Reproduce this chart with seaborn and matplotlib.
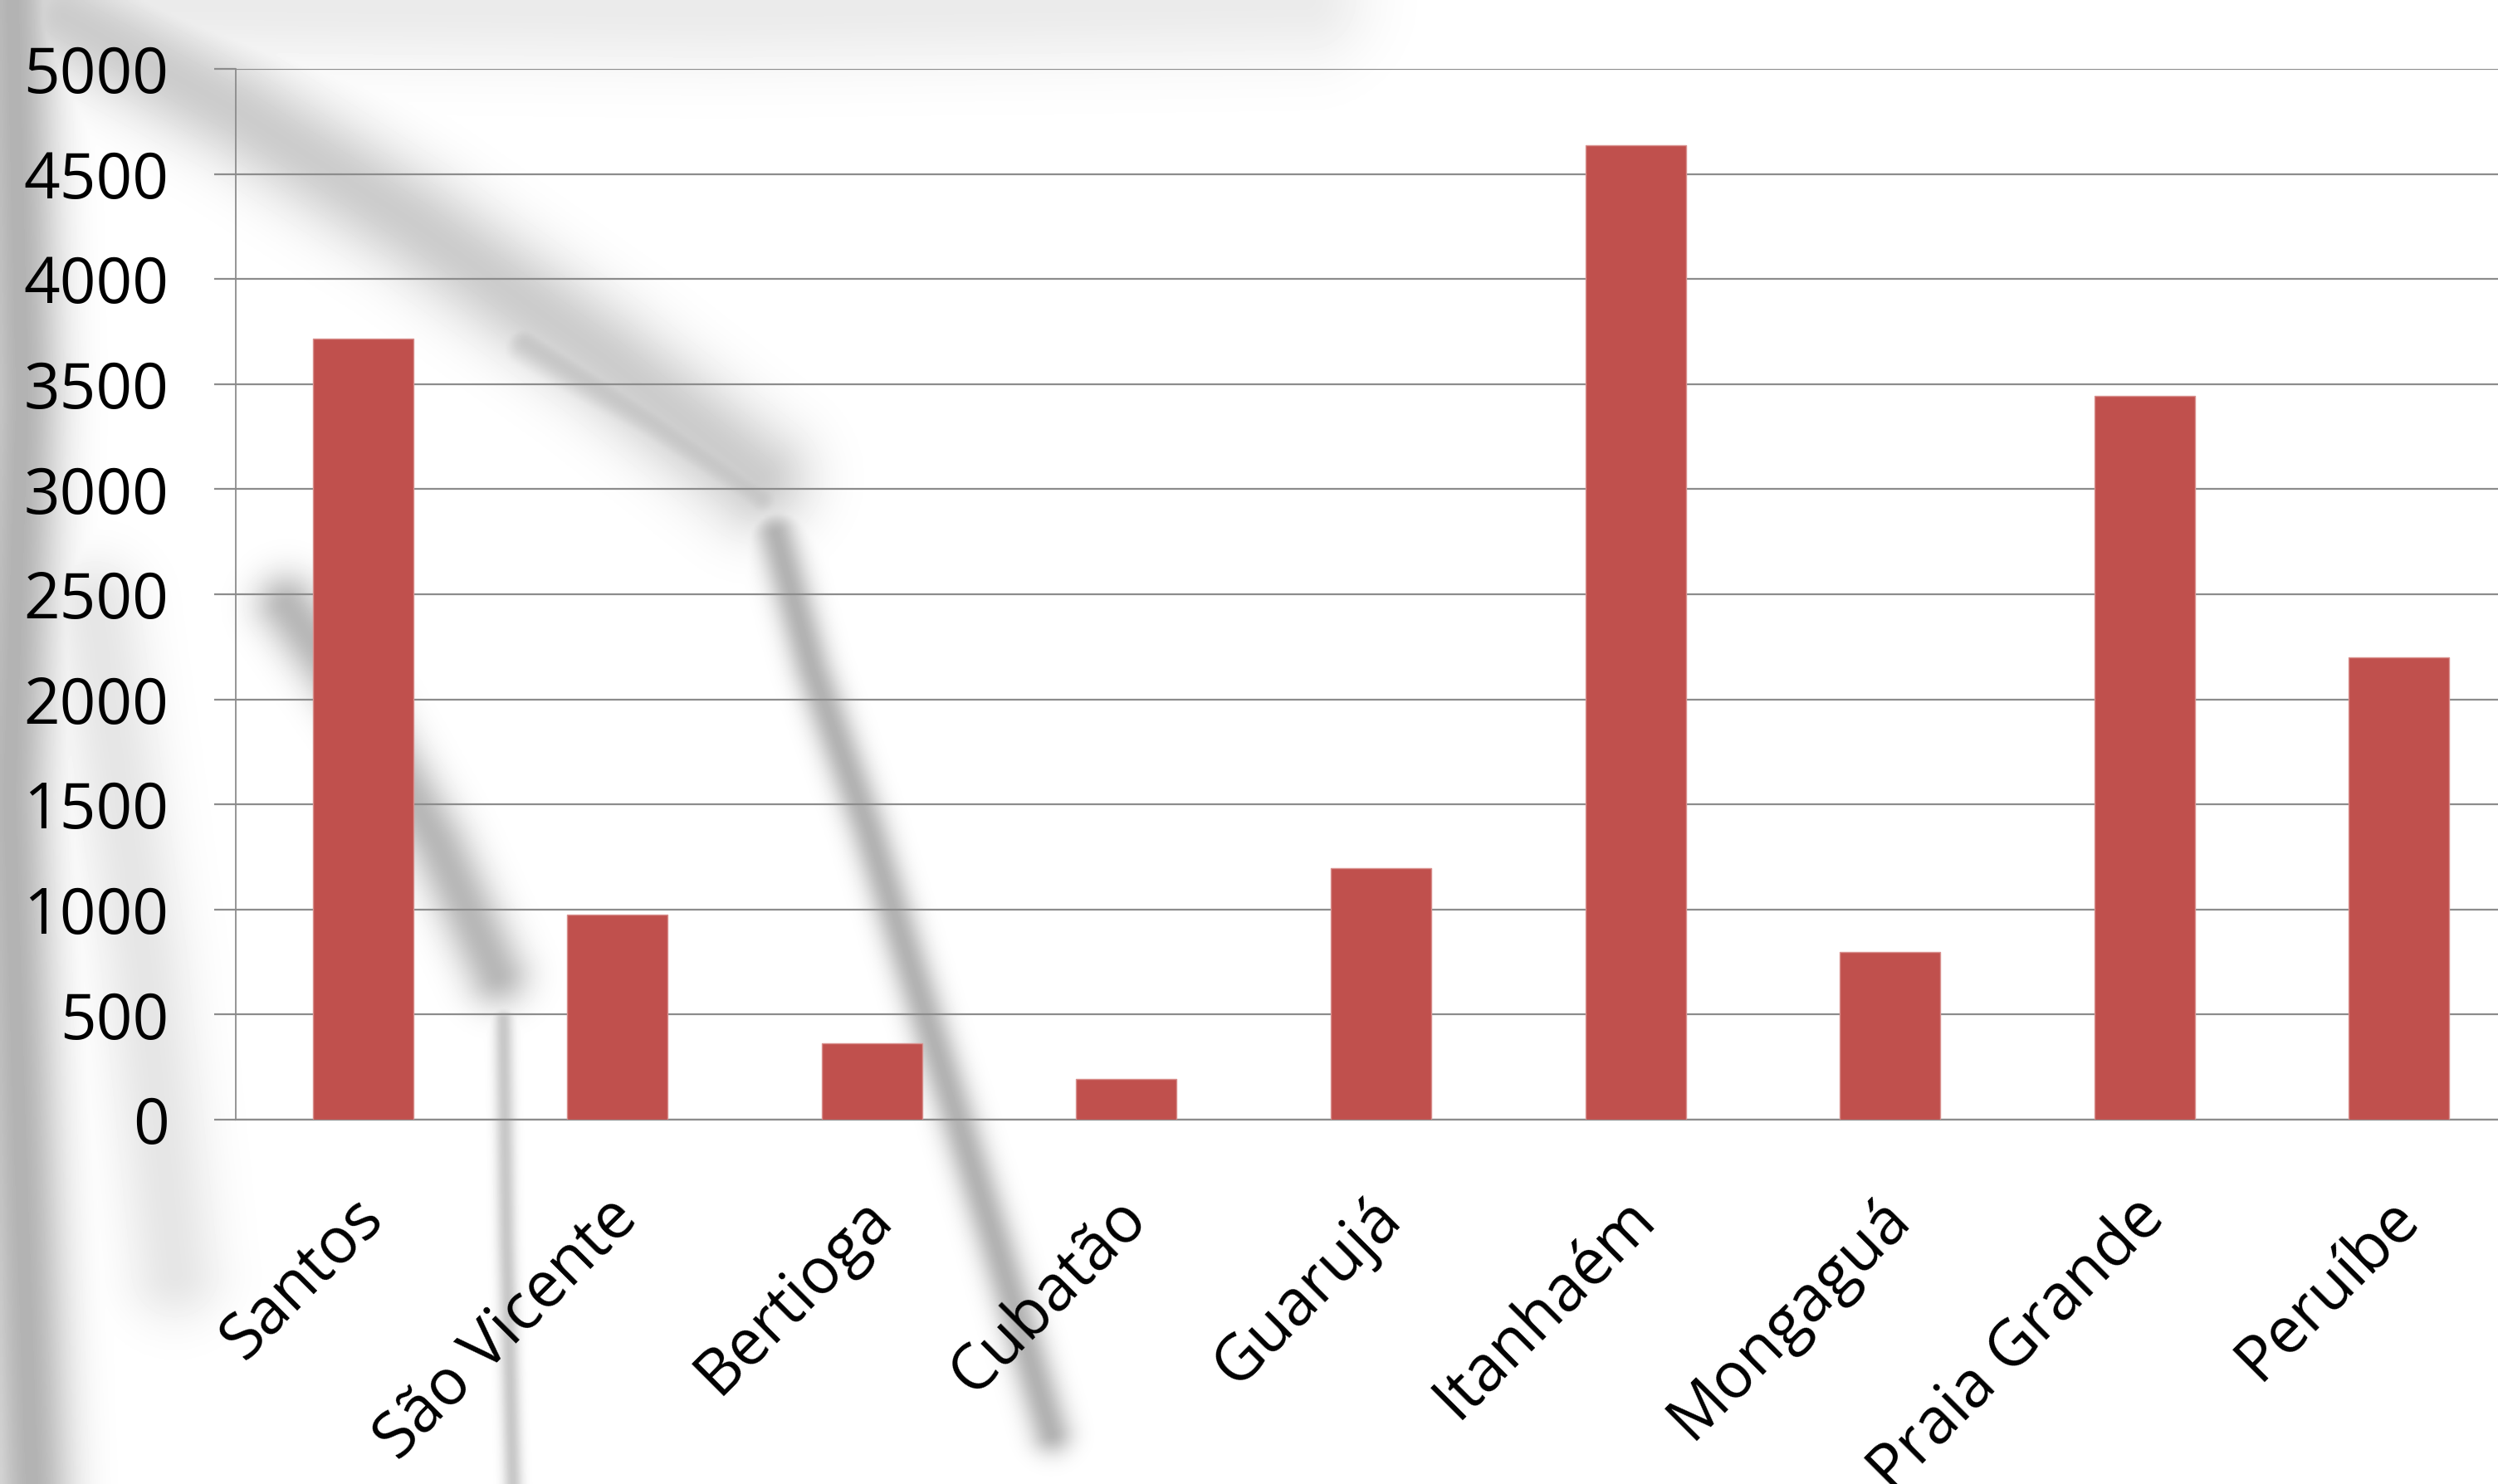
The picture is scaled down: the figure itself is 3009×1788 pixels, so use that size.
import numpy as np
import pandas as pd
import matplotlib
matplotlib.use("Agg")
import matplotlib.pyplot as plt
import matplotlib.transforms as mtransforms
import seaborn as sns

# ---- data ----
categories = ["Santos", "São Vicente", "Bertioga", "Cubatão", "Guarujá",
              "Itanhaém", "Mongaguá", "Praia Grande", "Peruíbe"]
values = [3715, 975, 362, 192, 1197, 4637, 797, 3445, 2199]
yticks = [0, 500, 1000, 1500, 2000, 2500, 3000, 3500, 4000, 4500, 5000]

df = pd.DataFrame({"cidade": categories, "valor": values})

sns.set_theme(style="white")
plt.rcParams["font.family"] = ["Open Sans", "DejaVu Sans"]

W, H = 3009, 1788
fig = plt.figure(figsize=(W / 100, H / 100), dpi=100)
fig.patch.set_facecolor("white")

# ---- faded photographic background (decoration) ----
bw, bh = 784, 466
gx, gy = np.meshgrid((np.arange(bw) + 0.5) * 1568 / bw, (np.arange(bh) + 0.5) * 932 / bh)

def poly_dist(pts):
    d = np.full(gx.shape, np.inf)
    for (x0, y0), (x1, y1) in zip(pts[:-1], pts[1:]):
        vx, vy = x1 - x0, y1 - y0
        t = np.clip(((gx - x0) * vx + (gy - y0) * vy) / (vx * vx + vy * vy), 0, 1)
        dd = np.hypot(gx - (x0 + t * vx), gy - (y0 + t * vy))
        d = np.minimum(d, dd)
    return d

strokes = [
    ([(40, 10), (150, 70), (260, 140), (380, 225), (475, 300)], 34, 0.20),
    ([(330, 215), (410, 265), (478, 312)], 14, 0.22),
    ([(487, 335), (510, 420), (545, 520), (585, 650), (625, 780), (660, 900)], 13, 0.30),
    ([(180, 380), (230, 450), (275, 530), (312, 612)], 20, 0.28),
    ([(316, 640), (318, 780), (322, 932)], 6, 0.22),
    ([(8, 0), (14, 250), (6, 500), (12, 700), (20, 932)], 26, 0.30),
    ([(60, 380), (90, 600), (110, 800)], 30, 0.10),
    ([(0, 0), (450, 5), (820, 0)], 40, 0.08),
]
dark = np.zeros(gx.shape)
for pts, w, s in strokes:
    d = poly_dist(pts)
    dark = np.maximum(dark, s * np.exp(-(d / w) ** 2))
img = 1.0 - dark
bg = fig.add_axes([0, 0, 1, 1], zorder=0)
bg.imshow(img, cmap="gray", vmin=0, vmax=1, extent=[0, 1568, 932, 0],
          aspect="auto", interpolation="bilinear")
bg.axis("off")

# ---- chart ----
left, right, top, bottom = 284, 3043, 83, 1349
ax = fig.add_axes([left / W, 1 - bottom / H, (right - left) / W, (bottom - top) / H], zorder=1)
ax.patch.set_alpha(0)

sns.barplot(data=df, x="cidade", y="valor", color="#C0504D", saturation=1,
            width=0.395, edgecolor="#D9908E", linewidth=1.0, ax=ax, zorder=3)

grid_c = "#8C8C8C"
ax.set_ylim(0, 5000)
ax.set_xlim(-0.5, len(categories) - 0.5)
ax.set_yticks(yticks)
ax.set_yticklabels([str(v) for v in yticks])
ax.yaxis.grid(True, color=grid_c, linewidth=1.6, zorder=0)
ax.set_axisbelow(True)
ax.set_xlabel("")
ax.set_ylabel("")
for s in ["top", "right"]:
    ax.spines[s].set_visible(False)
ax.spines["left"].set_color(grid_c)
ax.spines["left"].set_linewidth(1.3)
ax.spines["bottom"].set_color(grid_c)
ax.spines["bottom"].set_linewidth(1.6)

# category boundary tick marks
ax.set_xticks(np.arange(len(categories)))
ax.set_xticklabels(categories)
ax.set_xticks(np.arange(len(categories) + 1) - 0.5, minor=True)
ax.tick_params(axis="x", which="major", length=0, pad=77, labelsize=55, labelcolor="black")
ax.tick_params(axis="x", which="minor", length=19, width=1.3, color=grid_c, direction="out")
ax.tick_params(axis="y", length=19, width=1.6, color=grid_c, pad=39, labelsize=55,
               labelcolor="black", direction="out", left=True)
shift = mtransforms.ScaledTranslation(0.12, 0, fig.dpi_scale_trans)
for lbl in ax.get_xticklabels():
    lbl.set_rotation(45)
    lbl.set_ha("right")
    lbl.set_va("center")
    lbl.set_rotation_mode("anchor")
    lbl.set_transform(lbl.get_transform() + shift)

fig.savefig("out.png", dpi=100)
